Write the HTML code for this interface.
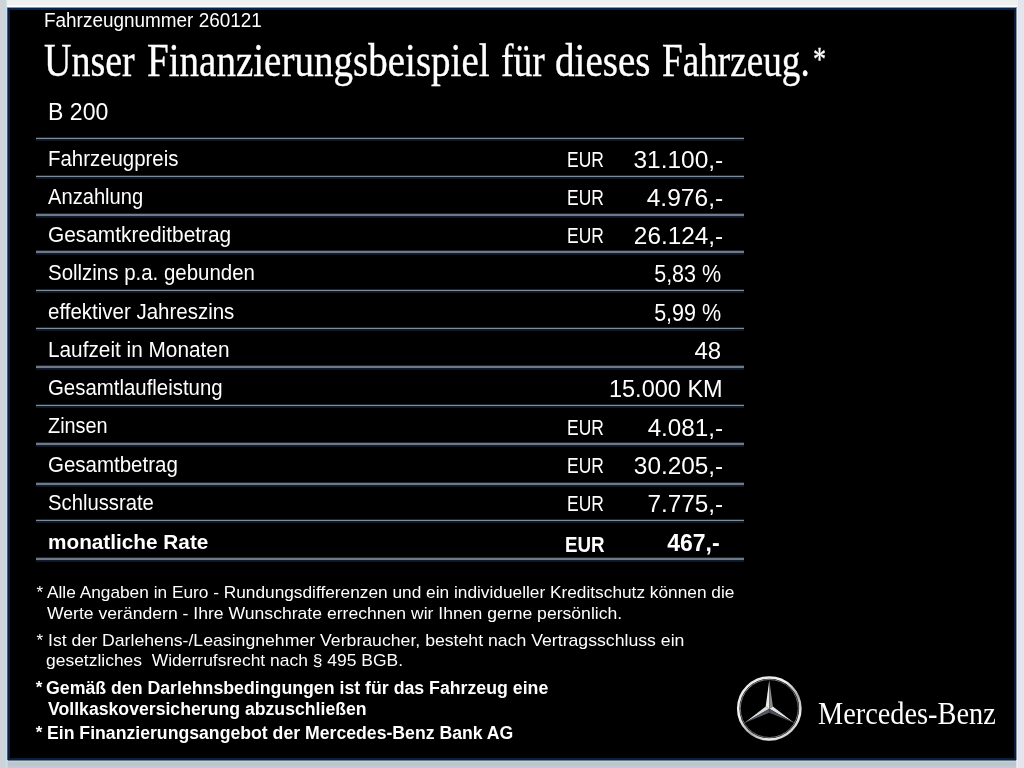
<!DOCTYPE html>
<html><head><meta charset="utf-8"><title>Finanzierungsbeispiel</title>
<style>
html,body{margin:0;padding:0;}
body{width:1024px;height:768px;position:relative;overflow:hidden;background:#dde2e8;font-family:"Liberation Sans",sans-serif;color:#fff;}
.fr{position:absolute;}
#box{position:absolute;left:8px;top:8px;width:1004px;height:748px;background:#000;border:2px solid #0a1e40;border-top-color:#06244a;}
#txt{position:absolute;left:0;top:0;width:1024px;height:768px;will-change:transform;}
.t{position:absolute;white-space:nowrap;}
.s{font-family:"Liberation Sans",sans-serif;}
.sr{font-family:"Liberation Serif",serif;}
.b{font-weight:bold;}
.ln{position:absolute;left:36px;width:708px;height:1px;background:#7e8c9a;box-shadow:0 -1px 0 #20262a,0 1px 0 #0e1c30,0 2px 0 #0c1624;}
</style></head><body>
<div class="fr" style="left:7px;top:0;width:1010px;height:8px;background:linear-gradient(to bottom,#e4f2f2 0px,#e4f2f2 1px,#eef0f4 1px,#eef0f4 2px,#f8ecec 2px,#f8ecec 3px,#f4f0f0 3px,#f4f0f0 4px,#eef0ee 4px,#eef0ee 5px,#f8fcf8 5px,#f8fcf8 6px,#fcfcfc 6px,#fcfcfc 7px,#8a96a2 7px,#8a96a2 8px)"></div>
<div class="fr" style="left:0;top:0;width:7px;height:768px;background:linear-gradient(to right,#d0d0e2 0px,#d0d0e2 1px,#d0d0d8 1px,#d0d0d8 2px,#d0d4d0 2px,#d0d4d0 3px,#c8d8d8 3px,#c8d8d8 4px,#c0d8dc 4px,#c0d8dc 5px,#c8d8e0 5px,#c8d8e0 6px,#d4dce8 6px,#d4dce8 7px,#4a5a78 7px,#4a5a78 8px)"></div>
<div class="fr" style="left:1017px;top:0;width:7px;height:768px;background:linear-gradient(to right,#eef2ee 0px,#eef2ee 1px,#dde4ec 1px,#dde4ec 2px,#e6e4f0 2px,#e6e4f0 6px,#e4e8e4 6px,#e4e8e4 7px)"></div>
<div class="fr" style="left:8px;top:760px;width:1008px;height:8px;background:linear-gradient(to bottom,#6a7888 0px,#6a7888 1px,#c0d4e0 1px,#c0d4e0 2px,#b8c8d8 2px,#b8c8d8 3px,#b8c8c8 3px,#b8c8c8 4px,#bcc8c0 4px,#bcc8c0 5px,#c0c4cc 5px,#c0c4cc 6px,#c4c8dc 6px,#c4c8dc 7px,#c4c8dc 7px,#c4c8dc 8px)"></div>
<div class="fr" style="left:7px;top:8px;width:1px;height:752px;background:#4a5a78"></div>
<div class="fr" style="left:7px;top:760px;width:1px;height:8px;background:#c8d4dc"></div>
<div class="fr" style="left:1016px;top:8px;width:1px;height:752px;background:#8a96a6"></div>
<div class="fr" style="left:1016px;top:760px;width:1px;height:8px;background:#dce4ea"></div>
<div id="box"></div>
<div class="ln" style="top:138px"></div>
<div class="ln" style="top:176px"></div>
<div class="ln" style="top:214px;height:2px;background:#6e7a88"></div>
<div class="ln" style="top:251px;height:2px;background:#6e7a88"></div>
<div class="ln" style="top:290px"></div>
<div class="ln" style="top:328px"></div>
<div class="ln" style="top:366px;height:2px;background:#6e7a88"></div>
<div class="ln" style="top:405px"></div>
<div class="ln" style="top:443px;height:2px;background:#6e7a88"></div>
<div class="ln" style="top:483px;height:2px;background:#6e7a88"></div>
<div class="ln" style="top:520px"></div>
<div class="ln" style="top:558px;height:2px;background:#6e7a88"></div>
<div id="txt">
<div id="hdr" class="t s" style="left:43.50px;top:9.97px;font-size:20px;line-height:20px;transform:scaleX(0.9465);transform-origin:0 0;">Fahrzeugnummer 260121</div>
<div id="h1w0" class="t sr" style="left:44.40px;top:38.48px;font-size:46px;line-height:46px;transform:scaleX(0.8263);transform-origin:0 0;-webkit-text-stroke:0.35px #fff;">Unser</div>
<div id="h1w1" class="t sr" style="left:147.00px;top:38.48px;font-size:46px;line-height:46px;transform:scaleX(0.8487);transform-origin:0 0;-webkit-text-stroke:0.35px #fff;">Finanzierungsbeispiel</div>
<div id="h1w2" class="t sr" style="left:500.50px;top:38.48px;font-size:46px;line-height:46px;transform:scaleX(0.8161);transform-origin:0 0;-webkit-text-stroke:0.35px #fff;">für</div>
<div id="h1w3" class="t sr" style="left:555.00px;top:38.48px;font-size:46px;line-height:46px;transform:scaleX(0.8491);transform-origin:0 0;-webkit-text-stroke:0.35px #fff;">dieses</div>
<div id="h1w4" class="t sr" style="left:662.00px;top:38.48px;font-size:46px;line-height:46px;transform:scaleX(0.8090);transform-origin:0 0;-webkit-text-stroke:0.35px #fff;">Fahrzeug.</div>
<div id="h1s" class="t sr" style="left:813.10px;top:41.52px;font-size:34px;line-height:34px;transform:scaleX(0.7707);transform-origin:0 0;-webkit-text-stroke:0.3px #fff;">*</div>
<div id="b200" class="t s" style="left:47.60px;top:100.53px;font-size:23px;line-height:23px;transform:scaleX(1.0040);transform-origin:0 0;">B 200</div>
<div id="l0" class="t s" style="left:48.00px;top:148.50px;font-size:21.5px;line-height:21.5px;transform:scaleX(0.9489);transform-origin:0 0;">Fahrzeugpreis</div>
<div id="e0" class="t s" style="left:566.90px;top:148.58px;font-size:22px;line-height:22px;transform:scaleX(0.7926);transform-origin:0 0;">EUR</div>
<div id="v0" class="t s" style="right:300.60px;top:148.51px;font-size:23.5px;line-height:23.5px;transform:scaleX(1.0411);transform-origin:100% 0;">31.100,-</div>
<div id="l1" class="t s" style="left:48.00px;top:186.78px;font-size:21.5px;line-height:21.5px;transform:scaleX(0.9369);transform-origin:0 0;">Anzahlung</div>
<div id="e1" class="t s" style="left:566.90px;top:186.86px;font-size:22px;line-height:22px;transform:scaleX(0.7926);transform-origin:0 0;">EUR</div>
<div id="v1" class="t s" style="right:301.00px;top:186.80px;font-size:23.5px;line-height:23.5px;transform:scaleX(1.0457);transform-origin:100% 0;">4.976,-</div>
<div id="l2" class="t s" style="left:48.00px;top:225.06px;font-size:21.5px;line-height:21.5px;transform:scaleX(0.9703);transform-origin:0 0;">Gesamtkreditbetrag</div>
<div id="e2" class="t s" style="left:566.90px;top:225.14px;font-size:22px;line-height:22px;transform:scaleX(0.7926);transform-origin:0 0;">EUR</div>
<div id="v2" class="t s" style="right:301.00px;top:225.09px;font-size:23.5px;line-height:23.5px;transform:scaleX(1.0364);transform-origin:100% 0;">26.124,-</div>
<div id="l3" class="t s" style="left:48.00px;top:263.34px;font-size:21.5px;line-height:21.5px;transform:scaleX(0.9510);transform-origin:0 0;">Sollzins p.a. gebunden</div>
<div id="v3" class="t s" style="right:303.00px;top:263.38px;font-size:23.5px;line-height:23.5px;transform:scaleX(0.9157);transform-origin:100% 0;">5,83 %</div>
<div id="l4" class="t s" style="left:48.00px;top:301.62px;font-size:21.5px;line-height:21.5px;transform:scaleX(0.9529);transform-origin:0 0;">effektiver Jahreszins</div>
<div id="v4" class="t s" style="right:303.00px;top:301.67px;font-size:23.5px;line-height:23.5px;transform:scaleX(0.9161);transform-origin:100% 0;">5,99 %</div>
<div id="l5" class="t s" style="left:48.00px;top:339.90px;font-size:21.5px;line-height:21.5px;transform:scaleX(0.9669);transform-origin:0 0;">Laufzeit in Monaten</div>
<div id="v5" class="t s" style="right:303.20px;top:339.96px;font-size:23.5px;line-height:23.5px;transform:scaleX(1.0204);transform-origin:100% 0;">48</div>
<div id="l6" class="t s" style="left:48.00px;top:378.18px;font-size:21.5px;line-height:21.5px;transform:scaleX(0.9487);transform-origin:0 0;">Gesamtlaufleistung</div>
<div id="v6" class="t s" style="right:301.60px;top:378.25px;font-size:23.5px;line-height:23.5px;transform:scaleX(1.0002);transform-origin:100% 0;">15.000 KM</div>
<div id="l7" class="t s" style="left:48.00px;top:416.46px;font-size:21.5px;line-height:21.5px;transform:scaleX(0.9241);transform-origin:0 0;">Zinsen</div>
<div id="e7" class="t s" style="left:566.90px;top:416.54px;font-size:22px;line-height:22px;transform:scaleX(0.7926);transform-origin:0 0;">EUR</div>
<div id="v7" class="t s" style="right:301.00px;top:416.54px;font-size:23.5px;line-height:23.5px;transform:scaleX(1.0324);transform-origin:100% 0;">4.081,-</div>
<div id="l8" class="t s" style="left:48.00px;top:454.74px;font-size:21.5px;line-height:21.5px;transform:scaleX(0.9527);transform-origin:0 0;">Gesamtbetrag</div>
<div id="e8" class="t s" style="left:566.90px;top:454.82px;font-size:22px;line-height:22px;transform:scaleX(0.7926);transform-origin:0 0;">EUR</div>
<div id="v8" class="t s" style="right:301.00px;top:454.83px;font-size:23.5px;line-height:23.5px;transform:scaleX(1.0364);transform-origin:100% 0;">30.205,-</div>
<div id="l9" class="t s" style="left:48.00px;top:493.02px;font-size:21.5px;line-height:21.5px;transform:scaleX(0.9425);transform-origin:0 0;">Schlussrate</div>
<div id="e9" class="t s" style="left:566.90px;top:493.10px;font-size:22px;line-height:22px;transform:scaleX(0.7926);transform-origin:0 0;">EUR</div>
<div id="v9" class="t s" style="right:301.00px;top:493.12px;font-size:23.5px;line-height:23.5px;transform:scaleX(1.0352);transform-origin:100% 0;">7.775,-</div>
<div id="l10" class="t s b" style="left:48.00px;top:532.15px;font-size:20.5px;line-height:20.5px;transform:scaleX(1.0128);transform-origin:0 0;">monatliche Rate</div>
<div id="e10" class="t s b" style="left:565.10px;top:533.68px;font-size:22px;line-height:22px;transform:scaleX(0.8513);transform-origin:0 0;">EUR</div>
<div id="v10" class="t s b" style="right:304.80px;top:531.81px;font-size:23.5px;line-height:23.5px;transform:scaleX(0.9789);transform-origin:100% 0;">467,-</div>
<div id="fs0" class="t s" style="left:36.50px;top:583.81px;font-size:17px;line-height:17px;">*</div>
<div id="f0" class="t s" style="left:46.80px;top:583.81px;font-size:17px;line-height:17px;transform:scaleX(1.0163);transform-origin:0 0;">Alle Angaben in Euro - Rundungsdifferenzen und ein individueller Kreditschutz können die</div>
<div id="f1" class="t s" style="left:46.80px;top:604.61px;font-size:17px;line-height:17px;transform:scaleX(1.0346);transform-origin:0 0;">Werte verändern - Ihre Wunschrate errechnen wir Ihnen gerne persönlich.</div>
<div id="fs2" class="t s" style="left:36.50px;top:632.01px;font-size:17px;line-height:17px;">*</div>
<div id="f2" class="t s" style="left:47.80px;top:632.01px;font-size:17px;line-height:17px;transform:scaleX(1.0393);transform-origin:0 0;">Ist der Darlehens-/Leasingnehmer Verbraucher, besteht nach Vertragsschluss ein</div>
<div id="f3" class="t s" style="left:45.60px;top:652.21px;font-size:17px;line-height:17px;transform:scaleX(1.0267);transform-origin:0 0;">gesetzliches&nbsp; Widerrufsrecht nach § 495 BGB.</div>
<div id="fs4" class="t s b" style="left:35.70px;top:679.21px;font-size:17px;line-height:17px;">*</div>
<div id="f4" class="t s b" style="left:45.90px;top:679.99px;font-size:17.5px;line-height:17.5px;transform:scaleX(1.0128);transform-origin:0 0;">Gemäß den Darlehnsbedingungen ist für das Fahrzeug eine</div>
<div id="f5" class="t s b" style="left:48.00px;top:700.99px;font-size:17.5px;line-height:17.5px;transform:scaleX(1.0090);transform-origin:0 0;">Vollkaskoversicherung abzuschließen</div>
<div id="fs6" class="t s b" style="left:35.70px;top:724.11px;font-size:17px;line-height:17px;">*</div>
<div id="f6" class="t s b" style="left:47.40px;top:724.89px;font-size:17.5px;line-height:17.5px;transform:scaleX(1.0089);transform-origin:0 0;">Ein Finanzierungsangebot der Mercedes-Benz Bank AG</div>
<div id="mb" class="t sr" style="left:817.60px;top:697.54px;font-size:31px;line-height:31px;transform:scaleX(0.9137);transform-origin:0 0;">Mercedes-Benz</div>
</div>
<svg class="fr" style="left:730px;top:670px" width="80" height="80" viewBox="0 0 80 80">
<defs>
<linearGradient id="rg" x1="0.1" y1="0" x2="0.9" y2="1">
<stop offset="0" stop-color="#e4e4e4"/><stop offset="0.35" stop-color="#f4f4f4"/><stop offset="0.6" stop-color="#a8a8a8"/><stop offset="0.8" stop-color="#f0f0f0"/><stop offset="1" stop-color="#b0b0b0"/>
</linearGradient>
<linearGradient id="rg2" x1="0" y1="0" x2="1" y2="1">
<stop offset="0" stop-color="#9a9a9a"/><stop offset="0.5" stop-color="#5a5a5a"/><stop offset="1" stop-color="#8a8a8a"/>
</linearGradient>
</defs>
<circle cx="39.3" cy="38.5" r="31.1" fill="none" stroke="url(#rg)" stroke-width="2.5"/>
<circle cx="39.3" cy="38.5" r="29.0" fill="none" stroke="url(#rg2)" stroke-width="1"/>
<g transform="translate(39.3 38.5)">
<polygon points="0,-28.6 -3.6,-2.1 0,0.3" fill="#ececec"/>
<polygon points="0,-28.6 3.6,-2.1 0,0.3" fill="#8c8c8c"/>
<polygon points="-25,14.4 -3.6,-2.1 0,0.3" fill="#dcdcdc"/>
<polygon points="-25,14.4 0,4.2 0,0.3" fill="#555a60"/>
<polygon points="25,14.4 3.6,-2.1 0,0.3" fill="#e2e2e2"/>
<polygon points="25,14.4 0,4.2 0,0.3" fill="#4a5058"/>
</g>
</svg>

</body></html>
